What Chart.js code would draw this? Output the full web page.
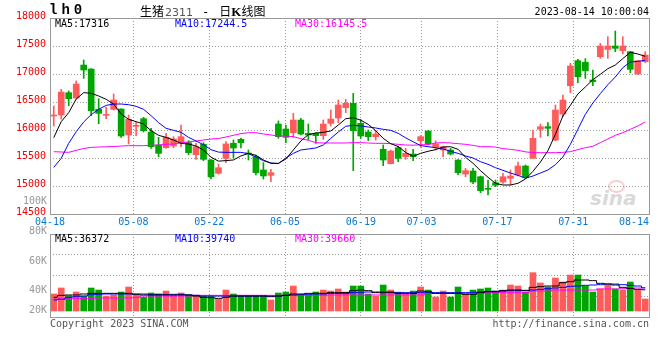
<!DOCTYPE html>
<html><head><meta charset="utf-8">
<script src="https://cdn.jsdelivr.net/npm/chart.js@4.4.0/dist/chart.umd.min.js"></script>
<style>
html,body{margin:0;padding:0;background:#fff;}
#wrap{position:relative;width:660px;height:360px;overflow:hidden;background:#fff;}
canvas{position:absolute;left:0;}
.t{position:absolute;white-space:nowrap;font-family:'DejaVu Sans Mono',monospace;font-size:10px;line-height:10px;}
</style></head><body>
<div id="wrap">
  <div class="t" style="left:590px;top:188px;font-family:'DejaVu Sans';font-style:italic;font-weight:bold;font-size:20px;line-height:20px;color:rgba(170,170,170,0.45);">sina</div>
  <div style="position:absolute;left:608px;top:180px;width:13px;height:9px;border:2px solid rgba(240,110,110,0.35);border-radius:50%;"></div>
  <canvas id="pc" width="660" height="228" style="top:0"></canvas>
  <canvas id="vc" width="660" height="132" style="top:228px"></canvas>
  <div class="t" style="left:49px;top:3px;font-family:'Liberation Mono',monospace;font-weight:bold;font-size:14px;line-height:14px;letter-spacing:-2.2px;color:#000;">l h 0</div>
  <div class="t" style="left:140px;top:4px;font-size:12px;line-height:13px;color:#000;"><span style="font-family:'Noto Sans CJK SC';">生猪</span><span style="font-family:'DejaVu Sans';font-size:11px;color:#555;margin-left:1px;">2311</span><span style="font-family:'DejaVu Sans Mono';margin-left:9px;margin-right:10px;">-</span><span style="font-family:'Noto Sans CJK SC';">日<b style="font-family:'Liberation Serif';font-size:13px;">K</b>线图</span></div>
  <div class="t" style="right:11px;top:7px;color:#000;">2023-08-14 10:00:04</div>
  <div class="t" style="left:55px;top:19px;color:#000;">MA5:17316</div>
  <div class="t" style="left:175px;top:19px;color:#0000ff;">MA10:17244.5</div>
  <div class="t" style="left:295px;top:19px;color:#ff00ff;">MA30:16145.5</div>
  <div class="t" style="right:613px;top:196px;color:#999;">100K</div>
  <div class="t" style="right:613px;top:226px;color:#999;">80K</div>
  <div class="t" style="right:613px;top:256px;color:#999;">60K</div>
  <div class="t" style="right:613px;top:285px;color:#999;">40K</div>
  <div class="t" style="right:613px;top:305px;color:#999;">20K</div>
  <div class="t" style="left:55px;top:234px;color:#000;">MA5:36372</div>
  <div class="t" style="left:175px;top:234px;color:#0000ff;">MA10:39740</div>
  <div class="t" style="left:295px;top:234px;color:#ff00ff;">MA30:39660</div>
  <div class="t" style="left:50px;top:319px;color:#555;">Copyright 2023 SINA.COM</div>
  <div class="t" style="right:11px;top:319px;color:#555;">http://finance.sina.com.cn</div>
</div>
<script>
const DATES = ['04-18','04-19','04-20','04-21','04-24','04-25','04-26','04-27','04-28',
 '05-04','05-05','05-08','05-09','05-10','05-11','05-12','05-15','05-16','05-17','05-18','05-19','05-22','05-23','05-24','05-25','05-26','05-29','05-30','05-31',
 '06-01','06-02','06-05','06-06','06-07','06-08','06-09','06-12','06-13','06-14','06-15','06-16','06-19','06-20','06-21','06-26','06-27','06-28','06-29','06-30',
 '07-03','07-04','07-05','07-06','07-07','07-10','07-11','07-12','07-13','07-14','07-17','07-18','07-19','07-20','07-21','07-24','07-25','07-26','07-27','07-28','07-31',
 '08-01','08-02','08-03','08-04','08-07','08-08','08-09','08-10','08-11','08-14'];
const TICK_LABELS = ['04-18','05-08','05-22','06-05','06-19','07-03','07-17','07-31','08-14'];
const PRICE_TICKS = [14500,15000,15500,16000,16500,17000,17500,18000];

const OPEN = [16250,16268,16666,16571,17160,17089,16369,16262,16369,16375,
 15911,16065,16202,15964,15732,15684,15714,15774,15774,15559,
 15744,15464,15226,15494,15762,15833,15583,15524,15286,15190,
 16107,16018,15952,16178,15940,15940,15899,16119,16214,16399,
 16476,16119,15964,15881,15655,15399,15684,15524,15571,15809,
 15982,15690,15643,15643,15464,15214,15268,15166,14958,15059,
 15071,15137,15196,15357,15494,16012,16059,15821,16286,16791,
 17238,17208,16893,17309,17440,17500,17416,17399,17000,17220];
const HIGH = [16428,16726,16696,16875,17250,17095,16559,16405,16643,16380,
 16268,16137,16226,16030,15869,15940,15881,16089,15809,15762,
 15774,15470,15393,15792,15821,15857,15643,15553,15417,15297,
 16161,16089,16297,16208,16107,15952,16178,16357,16535,16547,
 16654,16190,16000,15988,15732,15643,15714,15672,15655,15899,
 15988,15809,15714,15672,15470,15315,15315,15178,15107,15107,
 15226,15286,15428,15375,16000,16107,16131,16446,16625,17190,
 17262,17274,17071,17547,17666,17768,17666,17405,17238,17399];
const LOW = [16071,16196,16434,16560,16922,16256,16113,16202,16357,15869,
 15750,15899,15964,15672,15524,15672,15684,15702,15559,15476,
 15452,15125,15214,15417,15500,15678,15464,15196,15125,15077,
 15851,15774,15869,15911,15821,15762,15833,16071,16131,16309,
 15274,15851,15809,15821,15363,15393,15434,15476,15452,15690,
 15732,15643,15524,15553,15202,15166,15042,14881,14839,14988,
 15047,15018,15178,15137,15494,15869,15893,15809,16238,16666,
 16845,16922,16791,17280,17280,17399,17357,17024,16995,17202];
const CLOSE = [16262,16678,16559,16821,17071,16345,16297,16280,16535,15893,
 16190,16077,15988,15702,15583,15869,15839,15881,15595,15702,
 15476,15166,15327,15750,15678,15774,15572,15238,15179,15238,
 15881,15869,16178,15928,15911,15899,16107,16196,16446,16476,
 15988,15893,15881,15928,15464,15625,15494,15583,15524,15881,
 15750,15750,15702,15571,15238,15274,15071,14917,14940,15012,
 15166,15178,15357,15155,15851,16059,16030,16357,16535,17143,
 16952,17059,16863,17500,17500,17458,17500,17083,17238,17339];

const MA5 = [15863,16149,16310,16554,16667,16655,16607,16548,16464,16286,
 16190,16149,16107,15988,15905,15869,15821,15762,15750,15714,
 15643,15515,15444,15453,15465,15536,15583,15548,15465,15405,
 15405,15482,15643,15804,15917,15946,15958,15982,16089,16202,
 16220,16175,16101,15988,15851,15756,15705,15600,15530,15583,
 15620,15649,15696,15702,15655,15512,15405,15274,15155,15048,
 15018,15018,15048,15125,15262,15428,15631,15922,16250,16440,
 16643,16768,16899,16994,17095,17160,17274,17387,17357,17316];
const MA10 = [15333,15494,15762,15970,16143,16274,16369,16440,16464,16464,
 16452,16423,16369,16256,16131,16030,15994,15958,15869,15804,
 15738,15649,15605,15601,15601,15601,15577,15518,15452,15411,
 15399,15500,15583,15643,15661,15679,15732,15851,15964,16066,
 16083,16072,16054,16036,16012,15994,15941,15860,15790,15722,
 15702,15684,15661,15619,15583,15536,15500,15434,15387,15327,
 15280,15232,15190,15140,15178,15232,15286,15381,15518,15744,
 16012,16280,16482,16649,16809,16946,17113,17214,17225,17244.5];
const MA30 = [15613,15607,15601,15637,15670,15690,15696,15700,15705,15714,
 15720,15720,15720,15726,15732,15744,15750,15768,15786,15804,
 15821,15839,15848,15875,15905,15935,15952,15952,15929,15911,
 15893,15893,15881,15845,15816,15774,15768,15768,15768,15768,
 15774,15774,15768,15762,15762,15756,15744,15732,15729,15735,
 15740,15768,15774,15768,15756,15744,15726,15702,15702,15696,
 15667,15655,15637,15610,15595,15595,15595,15595,15601,15613,
 15649,15684,15708,15774,15839,15905,15952,16012,16071,16145.5];

const VOLUME = [29200,39500,26300,32600,25700,39500,36000,25700,27500,32600,
 41200,27500,23500,30900,29200,34300,27500,30900,27500,25700,
 25700,25700,20000,36000,29200,25700,25700,25700,25700,18900,
 30900,32600,42900,27500,27500,32600,36000,34300,37800,32600,
 42900,42900,29200,25700,44600,36000,31500,29200,34300,41200,
 36000,24000,34300,24000,41200,29200,36000,37800,39500,34300,
 36000,44600,42900,32600,65800,48100,41200,56600,49800,61800,
 61800,42900,32600,37800,44600,37800,36000,49800,36000,20600];
const VOL_MA5 = [23500,26900,27500,27500,29200,30300,30300,30300,30300,30300,
 30300,28600,27500,27500,27500,27500,27500,27500,27500,25700,
 23500,22900,21700,23500,25700,25700,25700,25700,25700,24600,
 25700,26900,29200,29200,30300,30300,30300,31500,31500,31500,
 34900,36000,34900,31500,31500,31500,30300,30300,30300,34300,
 33200,30300,30300,30300,30300,28600,28600,31500,33200,33200,
 34900,36000,36000,34900,40600,41800,42900,42900,48600,50400,
 53200,53200,52100,47500,46300,44600,40600,38900,37200,36372];
const VOL_MA10 = [18900,20000,23500,24600,25700,28000,28600,29200,29200,29200,
 29200,29200,29200,28600,28600,28600,28600,28600,27500,26900,
 25700,25700,25700,25700,25700,25700,25700,25700,25700,25700,
 25700,26900,27500,28000,28600,29200,29200,30300,30300,30300,
 31500,32000,32600,32600,32600,32600,32000,31500,31500,31500,
 31500,31500,31500,31500,31500,31500,32000,32600,33200,33800,
 34300,34900,34900,35500,36000,37200,38300,39500,40600,42300,
 42900,44100,44600,45200,46300,46300,45200,44100,42900,39740];
const VOL_MA30 = [20000,21200,21200,21200,21200,21200,22300,22300,22300,22300,
 22300,23500,25700,25700,25700,25700,25700,25700,25700,26900,
 26900,26900,26900,26900,26900,26900,26900,26900,26900,26900,
 26900,26900,26900,26900,26900,26900,26900,27500,27500,27500,
 27500,27500,27500,27500,27500,27500,27500,27500,27500,27500,
 30300,30300,30300,30300,30300,30300,30300,30300,31500,31500,
 31500,31500,31500,31500,34300,34300,34300,36000,36000,36000,
 36000,36000,36000,37800,37800,37800,38300,38900,39500,39660];

const MONO = "'DejaVu Sans Mono', monospace";
const RED = '#ff5b5b', GREEN = '#00a600', GRID = '#999', NONE = 'rgba(0,0,0,0)';
Chart.defaults.font.family = MONO;
Chart.defaults.font.size = 10;

const colors = OPEN.map((o, i) => CLOSE[i] >= o ? RED : GREEN);
const tickIdx = TICK_LABELS.map(l => DATES.indexOf(l));
const gridIdx = tickIdx.slice(1, -1);

const frame = {
  id: 'frame',
  afterDraw(chart) {
    const {ctx, chartArea: a} = chart;
    ctx.save();
    ctx.strokeStyle = GRID; ctx.lineWidth = 1;
    ctx.strokeRect(Math.round(a.left) + 0.5, Math.round(a.top) + 0.5, Math.round(a.right - a.left), Math.round(a.bottom - a.top));
    ctx.restore();
  }
};

function gridX(showLabels) {
  return {
    type: 'category', labels: DATES, offset: false, position: 'bottom',
    afterBuildTicks: s => {
      const t = tickIdx.map(v => ({value: v}));
      s.ticks = showLabels ? [{value: -1}].concat(t) : t;
    },
    afterFit: s => { s.height = showLabels ? 14 : 0; },
    ticks: {
      display: showLabels, autoSkip: false, maxRotation: 0, minRotation: 0, align: 'inner', padding: 2,
      color: '#0a78d2', font: {family: MONO, size: 10},
      callback: v => (v >= 0 ? DATES[v] : '')
    },
    grid: { drawTicks: false, lineWidth: 1, color: c => (c.tick && gridIdx.includes(c.tick.value)) ? GRID : NONE },
    border: { display: false, dash: [1, 2] }
  };
}

const common = {
  responsive: false, animation: false, events: [],
  plugins: { legend: {display: false}, tooltip: {enabled: false} }
};

new Chart(document.getElementById('pc'), {
  data: {
    labels: DATES,
    datasets: [
      {type: 'line', data: MA5, borderColor: '#000', borderWidth: 1, pointRadius: 0, order: 0, xAxisID: 'x', yAxisID: 'y'},
      {type: 'line', data: MA10, borderColor: '#0000ff', borderWidth: 1, pointRadius: 0, order: 0, xAxisID: 'x', yAxisID: 'y'},
      {type: 'line', data: MA30, borderColor: '#ff00ff', borderWidth: 1, pointRadius: 0, order: 0, xAxisID: 'x', yAxisID: 'y'},
      {type: 'bar', data: LOW.map((l, i) => [l, HIGH[i]]), backgroundColor: colors, barThickness: 1, grouped: false, order: 2, xAxisID: 'x', yAxisID: 'y'},
      {type: 'bar', data: OPEN.map((o, i) => [o, CLOSE[i]]), backgroundColor: colors, barThickness: 6, minBarLength: 1, grouped: false, order: 1, xAxisID: 'x', yAxisID: 'y'}
    ]
  },
  options: Object.assign({}, common, {
    layout: {padding: {top: 18, right: 11, bottom: 0, left: 0}},
    scales: {
      x: {type: 'category', offset: true, display: false},
      xg: gridX(true),
      y: {
        min: 14500, max: 18000, position: 'left',
        afterFit: s => { s.width = 50; },
        afterBuildTicks: s => { s.ticks = PRICE_TICKS.map(v => ({value: v})); },
        ticks: {color: '#ee0000', padding: 4, labelOffset: -2, font: {family: MONO, size: 10}, callback: v => String(v)},
        grid: {drawTicks: false, color: c => (c.tick && c.tick.value > 14500 && c.tick.value < 18000) ? GRID : NONE},
        border: {display: false, dash: [1, 2]}
      }
    }
  }),
  plugins: [frame]
});

new Chart(document.getElementById('vc'), {
  data: {
    labels: DATES,
    datasets: [
      {type: 'line', data: VOL_MA5, borderColor: '#000', borderWidth: 1, pointRadius: 0, stepped: 'middle', order: 0, xAxisID: 'x', yAxisID: 'y'},
      {type: 'line', data: VOL_MA10, borderColor: '#0000ff', borderWidth: 1, pointRadius: 0, stepped: 'middle', order: 0, xAxisID: 'x', yAxisID: 'y'},
      {type: 'line', data: VOL_MA30, borderColor: '#ff00ff', borderWidth: 1, pointRadius: 0, stepped: 'middle', order: 0, xAxisID: 'x', yAxisID: 'y'},
      {type: 'bar', data: VOLUME, backgroundColor: colors, barThickness: 6, grouped: false, order: 1, xAxisID: 'x', yAxisID: 'y'}
    ]
  },
  options: Object.assign({}, common, {
    layout: {padding: {top: 6, right: 11, bottom: 43, left: 0}},
    scales: {
      x: {type: 'category', offset: true, display: false},
      xg: gridX(false),
      y: {
        min: -10300, max: 132200, position: 'left',
        afterFit: s => { s.width = 50; },
        afterBuildTicks: s => { const st = (s.max - s.min) / 4; s.ticks = [0, 1, 2, 3, 4].map(i => ({value: s.min + i * st})); },
        ticks: {display: false},
        grid: {drawTicks: false, color: c => (c.index > 0 && c.index < 4) ? GRID : NONE},
        border: {display: false, dash: [1, 2]}
      }
    }
  }),
  plugins: [frame]
});
</script>
</body></html>
